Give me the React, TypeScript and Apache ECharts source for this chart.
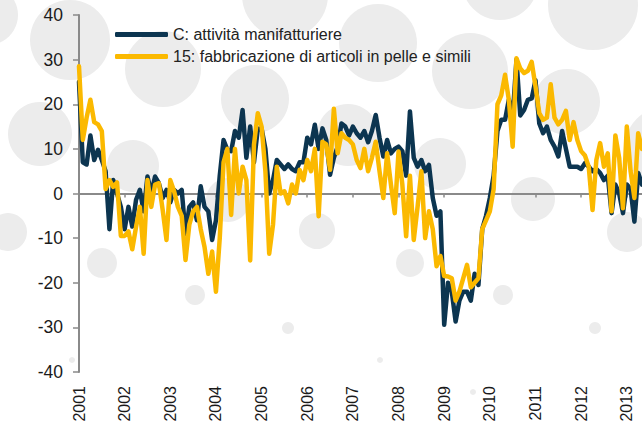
import React, { useEffect, useRef } from "react";
import * as echarts from "echarts";

const YEARS = ["2001","2002","2003","2004","2005","2006","2007","2008","2009","2010","2011","2012","2013"];
const N_MONTHS = 149;
const MONTHS: string[] = [];
YEARS.forEach((y) => {
  for (let m = 1; m <= 12; m++) MONTHS.push(`${y}-${m < 10 ? "0" + m : m}`);
});
const CATEGORIES = MONTHS.slice(0, N_MONTHS);

const SERIES_C_NAME = "C: attività manifatturiere";
const SERIES_15_NAME = "15: fabbricazione di articoli in pelle e simili";

// C: attività manifatturiere (monthly, Jan 2001 - May 2013)
const manifatturiere = [
  25, 7, 6.5, 13, 7.5, 9.8, 7.5, 5, -8, 3, 0, -3,
  -8, -3, -7.4, -1.4, 0.8, -4, 3.8, 0, 3.8, 2.3, -1, 0.8,
  -2, 0.8, 0, 0.8, -9, -3, -2, -6, 1.6, -3, -4, -10.4,
  -6, 4, 12, 9.8, 9.5, 14, 12.5, 18.7, 8, 15, 7, 14.5,
  14.5, 10, 0, 3, 7.5, 6.5, 5.5, 6.5, 5.5, 5, 7, 7,
  12.5, 11, 15.4, 10, 14.6, 12, 4.2, 8, 10.5, 15.7, 15, 13,
  15, 13.5, 12.5, 14, 11.5, 14, 17.6, 12.5, 8.3, 12, 9, 10,
  10.5, 9.5, 4, 18.4, 8, 6, 7.5, 5, 6.4, -1, -5, -4,
  -29.4, -20, -22, -28.7, -24, -22, -22, -24, -18, -20.5, -8, -5,
  -1, 4, 14, 16.5, 16.5, 21, 17, 30, 17.5, 18.7, 21, 21.3,
  25.4, 15.7, 13.5, 15, 12, 10.5, 8.3, 14, 10, 6, 6, 6,
  5.5, 6.8, 6, 5, 5.5, 4.6, 3, 4, -4.4, 2, 0, -4.4,
  2, 1, -6.3, 4.6, 2,
];

// 15: fabbricazione di articoli in pelle e simili
const pelle = [
  28.5, 12, 17, 21, 16, 15.5, 14, 1, 3, 1.5, 2.5, -9.5,
  -9.5, -8.5, -12.5, -7.5, -3, -13.5, 3, -3, 2, 2.3, -3.7, -10.4,
  3, 0.5, -3, -5, -14.9, -7, -4, -3, -8, -12, -18, -13,
  -22, -10, 7, 10, -4.8, 10, 0, 6, 3, -15, 11, 18,
  15, 5, -13.5, -7, 6, 0, 0.5, -2.2, 2, 0, 5.3, 3,
  7.5, 5, 10, -5.1, 11.6, 11, 5.3, 19, 9, 13.5, 12.5, 12,
  11, 7.5, 5.7, 10, 5, 8, 11.6, 5, -1, 9, 2, -4.4,
  9.4, 2, -9.6, 4, -10.4, -3, 5, -10, -4, -8, -16.3, -14,
  -18.5, -18.6, -19, -24, -22, -19, -16, -21, -20, -19, -8, -6,
  -4, 1, 20, 22, 26.6, 21, 10.5, 30.3, 28, 27, 27.5, 29.5,
  24, 18, 16.5, 17, 24.5, 17, 15.5, 16.5, 18.5, 12, 16, 12,
  9.5, 8.5, 6, -3.7, 7.5, 11.3, 6, 9, -4, 13, 8, -3.3,
  15, 5, -1, 13.5, 10,
];

const Y_MIN = -40;
const Y_MAX = 40;
const Y_STEP = 10;

// decorative background dots: [cx, cy, r]
const BG_CIRCLES: [number, number, number][] = [
  [-12, 15, 30], [70, 40, 40], [163, 69, 38], [40, 134, 32], [133, 166, 26],
  [8, 232, 19], [102, 263, 15], [195, 295, 10], [72, 360, 3],
  [285, -5, 43], [378, 43, 39], [255, 99, 34], [348, 135, 31], [228, 200, 22],
  [317, 231, 18], [410, 263, 14], [288, 328, 6], [380, 360, 3],
  [470, 71, 38], [500, -18, 38], [593, 5, 45], [567, 102, 33], [665, 147, 40],
  [440, 164, 26], [533, 199, 22], [627, 232, 20], [503, 295, 10], [595, 328, 6], [473, 392, 3],
];

const FONT = "'Liberation Sans', Arial, Helvetica, sans-serif";
const DARK = "#0c3550";
const YELLOW = "#fbb900";
const AXIS_GREY = "#8a8a8a";

export default function App() {
  const ref = useRef<HTMLDivElement>(null);
  useEffect(() => {
    if (!ref.current) return;
    const chart = echarts.init(ref.current, undefined, { renderer: "svg" });
    const isJan = (idx: number) => idx % 12 === 0;
    chart.setOption({
      animation: false,
      backgroundColor: "#ffffff",
      textStyle: { fontFamily: FONT },
      graphic: BG_CIRCLES.map(([cx, cy, r]) => ({
        type: "circle",
        z: -100,
        silent: true,
        shape: { cx, cy, r },
        style: { fill: "#ececec" },
      })),
      grid: { left: 79, right: 0, top: 15, bottom: 55, containLabel: false },
      legend: {
        orient: "vertical",
        left: 110,
        top: 21,
        padding: 5,
        itemWidth: 53,
        itemHeight: 5,
        itemGap: 5,
        icon: "roundRect",
        textStyle: { fontFamily: FONT, fontSize: 16, color: "#222", lineHeight: 17 },
        data: [SERIES_C_NAME, SERIES_15_NAME],
      },
      xAxis: [
        {
          type: "category",
          data: CATEGORIES,
          boundaryGap: false,
          position: "bottom",
          axisLine: { show: false, onZero: false },
          axisTick: { show: false },
          splitLine: { show: false },
          axisLabel: {
            interval: (idx: number) => isJan(idx),
            rotate: 90,
            margin: 14,
            fontSize: 16,
            color: "#1a1a1a",
            fontFamily: FONT,
            formatter: (v: string) => v.slice(0, 4),
          },
        },
        {
          type: "category",
          data: CATEGORIES,
          boundaryGap: false,
          position: "bottom",
          axisLine: { show: true, onZero: true, lineStyle: { color: AXIS_GREY, width: 2 } },
          axisTick: {
            show: true,
            interval: (idx: number) => isJan(idx),
            length: 4,
            lineStyle: { color: AXIS_GREY, width: 1.5 },
          },
          axisLabel: { show: false },
          splitLine: { show: false },
        },
      ],
      yAxis: {
        type: "value",
        min: Y_MIN,
        max: Y_MAX,
        interval: Y_STEP,
        axisLine: { show: true, lineStyle: { color: AXIS_GREY, width: 2 } },
        axisTick: { show: true, length: 6, lineStyle: { color: AXIS_GREY, width: 1.5 } },
        splitLine: { show: false },
        axisLabel: { margin: 16, fontSize: 17.5, color: "#1a1a1a", fontFamily: FONT },
      },
      series: [
        {
          name: SERIES_C_NAME,
          type: "line",
          data: manifatturiere,
          xAxisIndex: 0,
          symbol: "none",
          color: DARK,
          lineStyle: { color: DARK, width: 4.5, cap: "round", join: "round" },
          z: 3,
        },
        {
          name: SERIES_15_NAME,
          type: "line",
          data: pelle,
          xAxisIndex: 0,
          symbol: "none",
          color: YELLOW,
          lineStyle: { color: YELLOW, width: 4.5, cap: "round", join: "round" },
          z: 4,
        },
      ],
    });
    return () => chart.dispose();
  }, []);
  return (
    <div
      ref={ref}
      style={{ position: "fixed", left: 0, top: 0, width: 642, height: 427 }}
    />
  );
}
